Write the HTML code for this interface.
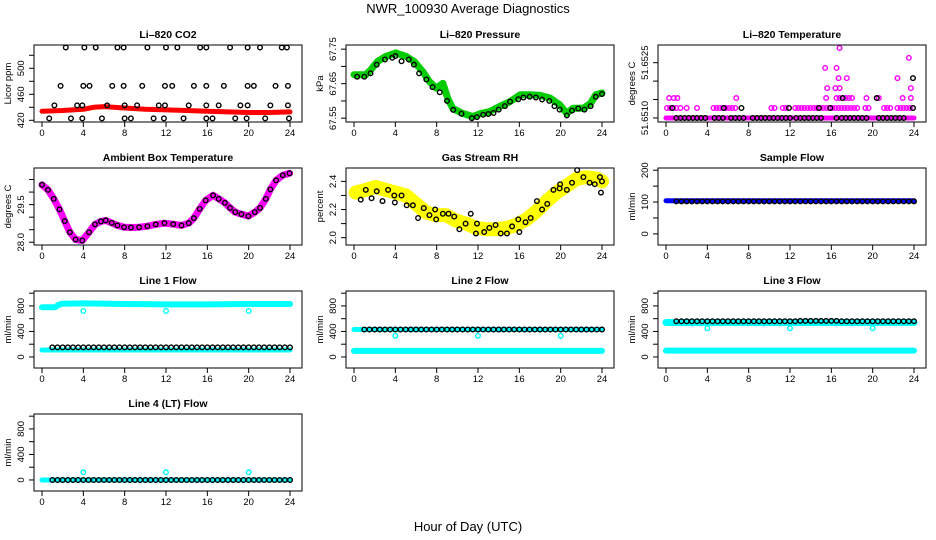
<!DOCTYPE html>
<html><head><meta charset="utf-8"><style>
html,body{margin:0;padding:0;background:#fff}
svg{display:block;font-family:"Liberation Sans",Arial,sans-serif}
</style></head><body>
<svg id="fig" width="936" height="540" viewBox="0 0 936 540">
<rect width="936" height="540" fill="#fff"/>
<text x="468" y="13" font-size="13" text-anchor="middle">NWR_100930  Average Diagnostics</text>
<text x="468" y="531" font-size="13" text-anchor="middle">Hour of Day (UTC)</text>
</svg>
<script>
// ---- data ----
const xTicks=[0,4,8,12,16,20,24];
const halfHours=[1,1.5,2,2.5,3,3.5,4,4.5,5,5.5,6,6.5,7,7.5,8,8.5,9,9.5,10,10.5,11,11.5,12,12.5,13,13.5,14,14.5,15,15.5,16,16.5,17,17.5,18,18.5,19,19.5,20,20.5,21,21.5,22,22.5,23,23.5,24];

// CO2
const co2RedX=[0,2,4,5,6,8,10,12,14,16,18,20,22,24];
const co2RedY=[434,435,437,440,441,439,437,436,435,434,433,432,432,433];
const co2TopX=[2.3,4.1,5.2,7.3,7.9,10.2,12,13.1,15.3,15.9,18.2,19.9,21.1,23.2,23.7];
const co2TopY=[532,532,532,532,532,532,532,532,532,532,532,532,532,532,532];
const co2MidX=[1.8,4,4.6,6.8,7.9,9.7,11.9,12.6,14.7,15.9,17.6,19.9,20.5,22.6,23.8];
const co2MidY=[473,473,473,473,473,473,473,473,473,473,473,473,473,473,473];
const co2LowX=[1.2,3.4,3.9,6.3,8,9.2,11.3,11.9,14.2,15.9,17.1,19.2,19.9,22.1,23.8];
const co2LowY=[443,443,443,443,443,443,443,443,443,443,443,443,443,443,443];
const co2BotX=[0.7,2.8,3.9,5.8,8,8.6,10.8,11.8,13.7,15.9,16.5,18.7,19.8,21.6,23.9];
const co2BotY=[423,423,423,423,423,423,423,423,423,423,423,423,423,423,423];

// Pressure
const presX=[0,1.14,1.62,2.27,3.08,4.05,5.03,5.84,6.65,7.3,7.95,8.6,9.08,9.57,10.5,11.5,12.3,13.1,14.1,15.1,16.1,17,18,19,19.9,20.6,21.2,22.2,22.9,23.4,24];
const presY=[67.676,67.676,67.69,67.714,67.729,67.739,67.729,67.714,67.685,67.656,67.637,67.651,67.607,67.578,67.564,67.555,67.564,67.569,67.584,67.598,67.618,67.618,67.616,67.608,67.589,67.564,67.579,67.579,67.593,67.618,67.623];
const presBlkX=[0.3,1,1.6,2.2,3,3.7,4,4.6,5.3,5.8,6.3,7,7.6,8.3,9,9.6,10.4,11.4,11.9,12.5,13,13.5,14,14.6,15.1,15.9,16.4,17,17.6,18.2,18.9,19.4,19.9,20.6,21.1,21.7,22.3,22.9,23.4,24];
const presBlkY=[67.67,67.67,67.68,67.705,67.72,67.725,67.73,67.715,67.72,67.705,67.68,67.662,67.64,67.625,67.6,67.574,67.563,67.55,67.553,67.56,67.562,67.565,67.575,67.585,67.598,67.605,67.61,67.612,67.61,67.604,67.6,67.585,67.575,67.558,67.572,67.578,67.575,67.585,67.612,67.62];

// Li-820 temperature
const tMagX=[0.1,0.4,0.7,1.0,1.4,2.0,3.0,4.6,4.9,5.2,5.5,5.8,6.1,6.4,6.7,10.2,10.5,11.3,11.6,12.5,12.8,13.1,13.4,13.7,14.0,14.3,14.6,14.9,15.2,15.5,15.8,16.1,16.4,16.7,17.0,17.3,17.6,17.9,18.2,18.5,19.3,19.6,21.1,21.4,21.7,22.4,22.7,23.0,23.3,23.6,23.9,
 0.3,0.75,1.1,6.8,15.5,16.5,16.8,17.1,17.4,17.7,18.0,19.4,20.4,20.6,22.9,23.7,
 15.6,16.4,16.8,23.7,16.7,17.5,22.4,15.4,16.5,23.5,16.8];
const tMagY=[51.65127,51.65127,51.65127,51.65127,51.65127,51.65127,51.65127,51.65127,51.65127,51.65127,51.65127,51.65127,51.65127,51.65127,51.65127,51.65127,51.65127,51.65127,51.65127,51.65127,51.65127,51.65127,51.65127,51.65127,51.65127,51.65127,51.65127,51.65127,51.65127,51.65127,51.65127,51.65127,51.65127,51.65127,51.65127,51.65127,51.65127,51.65127,51.65127,51.65127,51.65127,51.65127,51.65127,51.65127,51.65127,51.65127,51.65127,51.65127,51.65127,51.65127,51.65127,
 51.65154,51.65154,51.65154,51.65154,51.65154,51.65154,51.65154,51.65154,51.65154,51.65154,51.65154,51.65154,51.65154,51.65154,51.65154,51.65154,
 51.65181,51.65181,51.65181,51.65181,51.65208,51.65208,51.65208,51.65236,51.65236,51.65263,51.6529];
const tBaseX=[0,24];
const tBaseY=[51.6510,51.6510];
const tBlkX=[1.0,1.4,1.8,2.2,2.6,3.0,3.4,3.8,4.7,5.1,5.5,6.3,6.7,7.1,7.5,8.4,8.8,9.2,9.6,10.0,10.4,10.8,11.2,11.6,12.0,12.6,13.0,13.4,13.8,14.2,14.6,15.0,16.5,17.0,17.4,17.8,18.2,18.6,19.0,19.4,20.6,21.0,21.4,21.8,22.2,22.6,23.0,
 0.6,5.6,7.3,11.9,14.8,15.9,23.9,17.1,20.4,23.9];
const tBlkY=[51.651,51.651,51.651,51.651,51.651,51.651,51.651,51.651,51.651,51.651,51.651,51.651,51.651,51.651,51.651,51.651,51.651,51.651,51.651,51.651,51.651,51.651,51.651,51.651,51.651,51.651,51.651,51.651,51.651,51.651,51.651,51.651,51.651,51.651,51.651,51.651,51.651,51.651,51.651,51.651,51.651,51.651,51.651,51.651,51.651,51.651,51.651,
 51.65127,51.65127,51.65127,51.65127,51.65127,51.65127,51.65127,51.65154,51.65154,51.65208];

// Ambient box temperature
const ambX=[0,0.58,1.14,1.69,2.2,2.7,3.25,3.9,4.55,5.13,5.7,6.17,6.75,7.3,7.95,8.6,9.4,10.2,11,11.85,12.7,13.5,14.2,14.7,15.26,15.84,16.56,17.1,17.7,18.2,18.7,19.3,19.97,20.6,21.1,21.66,22.1,22.66,23.3,23.96];
const ambY=[30.29,30.09,29.73,29.31,28.84,28.4,28.11,28.07,28.4,28.71,28.83,28.87,28.77,28.67,28.6,28.59,28.6,28.64,28.71,28.76,28.72,28.67,28.76,28.96,29.33,29.67,29.87,29.73,29.57,29.37,29.2,29.12,29.04,29.2,29.37,29.73,30.11,30.47,30.67,30.75];

// Gas stream RH
const rhX=[0.16,1.14,2.1,3.08,4.05,5.03,6,6.97,7.95,8.9,9.9,10.9,11.8,12.8,13.8,14.8,15.7,16.7,17.7,18.65,19.6,20.6,21.6,22.5,23.5,24];
const rhY=[2.32,2.34,2.36,2.34,2.32,2.3,2.24,2.18,2.16,2.16,2.12,2.1,2.07,2.06,2.06,2.07,2.09,2.13,2.19,2.26,2.32,2.37,2.42,2.43,2.42,2.4];
const rhBlkX=[0.65,1.14,1.7,2.2,2.76,3.3,3.9,3.95,4.6,5.1,5.7,6.2,6.75,7.3,7.85,7.95,8.6,9.15,9.7,10.2,10.8,11.3,11.8,11.9,12.6,13.1,13.7,14.2,14.8,15.3,15.9,16,16.6,17.1,17.7,18.2,18.7,19.3,19.9,19.95,20.6,21.1,21.6,22.2,22.8,23.3,23.8,23.9,24];
const rhBlkY=[2.27,2.34,2.28,2.33,2.26,2.34,2.3,2.25,2.3,2.23,2.23,2.14,2.21,2.16,2.2,2.13,2.17,2.17,2.15,2.06,2.1,2.17,2.03,2.1,2.04,2.07,2.09,2.03,2.03,2.08,2.13,2.04,2.11,2.14,2.26,2.2,2.24,2.34,2.35,2.38,2.34,2.39,2.48,2.43,2.39,2.38,2.43,2.32,2.4];

// Sample flow
const sfBlueX=[0,24];
const sfBlueY=[104,104];
const sfBlkY=[102,102,102,102,102,102,102,102,102,102,102,102,102,102,102,102,102,102,102,102,102,102,102,102,102,102,102,102,102,102,102,102,102,102,102,102,102,102,102,102,102,102,102,102,102,102,102];

// Line flows
const dipX=[4,12,20];
const l1TopX=[0,1.3,1.6,2,4,8,12,16,20,24];
const l1TopY=[780,780,820,835,840,830,825,825,830,830];
const l1BotX=[0,24];
const l1BotY=[110,110];
const l1DipY=[720,720,720];
const l1BlkY=[150,150,150,150,150,150,150,150,150,150,150,150,150,150,150,150,150,150,150,150,150,150,150,150,150,150,150,150,150,150,150,150,150,150,150,150,150,150,150,150,150,150,150,150,150,150,150];

const l2TopX=[0,24];
const l2TopY=[430,430];
const l2BotX=[0,24];
const l2BotY=[95,95];
const l2DipY=[330,330,330];
const l2BlkY=[430,430,430,430,430,430,430,430,430,430,430,430,430,430,430,430,430,430,430,430,430,430,430,430,430,430,430,430,430,430,430,430,430,430,430,430,430,430,430,430,430,430,430,430,430,430,430];

const l3TopX=[0,24];
const l3TopY=[540,540];
const l3BotX=[0,24];
const l3BotY=[100,100];
const l3DipY=[450,450,450];
const l3BlkY=[560,560,560,560,560,560,560,560,560,560,560,560,560,560,560,560,560,560,560,560,560,560,560,560,565,565,565,565,565,565,565,565,560,560,560,560,560,560,560,560,560,560,560,560,560,560,560];

const l4BandX=[0,24];
const l4BandY=[0,0];
const l4DipY=[120,120,120];
const l4BlkY=[0,0,0,0,0,0,0,0,0,0,0,0,0,0,0,0,0,0,0,0,0,0,0,0,0,0,0,0,0,0,0,0,0,0,0,0,0,0,0,0,0,0,0,0,0,0,0];

// ---- drawing ----
const NS='http://www.w3.org/2000/svg';
const svg=document.getElementById('fig');
function mk(tag,attrs,parent){const e=document.createElementNS(NS,tag);for(const k in attrs)e.setAttribute(k,attrs[k]);(parent||svg).appendChild(e);return e;}

function panel(o){
  const g=mk('g',{});
  
  
  const cx=o.col*312, L=34+cx, R=302+cx, T=45+123*o.row, B=122+123*o.row;
  const sx=h=>cx+42+h*248/24;
  const sy=v=>B-(v-o.lo)/(o.hi-o.lo)*(B-T);
  const plot=mk('g',{},g);
  
  
  const box=mk('rect',{x:L,y:T,width:R-L,height:B-T,fill:'none',stroke:'#000','stroke-width':1},g);
  
  
  const t=mk('text',{x:(L+R)/2,y:T-7,'font-size':10.5,'font-weight':'bold','text-anchor':'middle'},g);
  t.textContent=o.title;
  
  
  const xa=mk('g',{},g);
  
  
  mk('line',{x1:sx(0),x2:sx(24),y1:B,y2:B,stroke:'#000'},xa);
  xTicks.forEach(h=>{
    mk('line',{x1:sx(h),x2:sx(h),y1:B,y2:B+5,stroke:'#000'},xa);
    const l=mk('text',{x:sx(h),y:B+14,'font-size':9.5,'text-anchor':'middle'},xa);
    l.textContent=h;
    
    
  });
  const ya=mk('g',{},g);
  
  
  mk('line',{x1:L,x2:L,y1:sy(o.ticks[0]),y2:sy(o.ticks[o.ticks.length-1]),stroke:'#000'},ya);
  o.ticks.forEach((v,i)=>{
    mk('line',{x1:L-5,x2:L,y1:sy(v),y2:sy(v),stroke:'#000'},ya);
    if(o.labels[i]){
      const l=mk('text',{x:0,y:0,'font-size':9.5,'text-anchor':'middle',transform:`translate(${L-10},${sy(v)}) rotate(-90)`},ya);
      l.textContent=o.labels[i];
      
      
    }
  });
  const yt=mk('text',{x:0,y:0,'font-size':9.5,'text-anchor':'middle',transform:`translate(${cx+11},${(T+B)/2}) rotate(-90)`},g);
  yt.textContent=o.ytitle;
  
  
  return {
    band(xs,ys,color,w,name){
      const p=mk('polyline',{points:xs.map((x,i)=>sx(x)+','+sy(ys[i])).join(' '),fill:'none',stroke:color,'stroke-width':w,'stroke-linejoin':'round','stroke-linecap':'round'},plot);
      
      
    },
    pts(xs,ys,color,name){
      const pg=mk('g',{},plot);
      
      
      xs.forEach((x,i)=>{
        const c=mk('circle',{cx:sx(x),cy:sy(ys[i]),r:2.3,fill:'none',stroke:color,'stroke-width':1.4},pg);
        
        
      });
    }
  };
}
const flowTicks=[0,200,400,600,800,1000], flowLabels=['0','','400','','800',''];

let p=panel({name:'co2-panel',col:0,row:0,lo:417.4,hi:535.8,ticks:[420,440,460,480,500,520],labels:['420','','460','','500',''],ytitle:'Licor ppm',title:'Li–820 CO2'});
p.band(co2RedX,co2RedY,'#ff0000',5,'co2-red-series');
p.pts(co2TopX,co2TopY,'#000','co2-outliers-top');
p.pts(co2MidX,co2MidY,'#000','co2-outliers-mid');
p.pts(co2LowX,co2LowY,'#000','co2-outliers-low');
p.pts(co2BotX,co2BotY,'#000','co2-outliers-bottom');

p=panel({name:'pressure-panel',col:1,row:0,lo:67.539,hi:67.762,ticks:[67.55,67.6,67.65,67.7,67.75],labels:['67.55','','67.65','','67.75'],ytitle:'kPa',title:'Li–820 Pressure'});
p.band(presX,presY,'#00cc00',7,'pressure-green-series');
p.pts(presBlkX,presBlkY,'#000','pressure-black-series');

p=panel({name:'licor-temp-panel',col:2,row:0,lo:51.65089,hi:51.65298,ticks:[51.651,51.6515,51.652,51.6525],labels:['51.6510','','','51.6525'],ytitle:'degrees C',title:'Li–820 Temperature'});
p.band(tBaseX,tBaseY,'#ff00ff',5,'licor-temp-base-band');
p.pts(tMagX,tMagY,'#ff00ff','licor-temp-magenta-series');
p.pts(tBlkX,tBlkY,'#000','licor-temp-black-series');

p=panel({name:'ambient-temp-panel',col:0,row:1,lo:27.89,hi:30.96,ticks:[28,28.5,29,29.5,30,30.5],labels:['28.0','','','29.5','',''],ytitle:'degrees C',title:'Ambient Box Temperature'});
p.band(ambX,ambY,'#ff00ff',7,'ambient-temp-magenta-series');
p.pts(ambX,ambY,'#000','ambient-temp-black-series');

p=panel({name:'gas-rh-panel',col:1,row:1,lo:1.948,hi:2.495,ticks:[2.0,2.1,2.2,2.3,2.4],labels:['2.0','','2.2','','2.4'],ytitle:'percent',title:'Gas Stream RH'});
p.band(rhX,rhY,'#ffff00',14,'gas-rh-yellow-series');
p.pts(rhBlkX,rhBlkY,'#000','gas-rh-black-series');

p=panel({name:'sample-flow-panel',col:2,row:1,lo:-35,hi:207,ticks:[0,50,100,150,200],labels:['0','','100','','200'],ytitle:'ml/min',title:'Sample Flow'});
p.band(sfBlueX,sfBlueY,'#0000ff',5,'sample-flow-blue-series');
p.pts(halfHours,sfBlkY,'#000','sample-flow-black-series');

p=panel({name:'line1-flow-panel',col:0,row:2,lo:-173,hi:1034,ticks:flowTicks,labels:flowLabels,ytitle:'ml/min',title:'Line 1 Flow'});
p.band(l1TopX,l1TopY,'#00ffff',6,'line1-cyan-top');
p.band(l1BotX,l1BotY,'#00ffff',5,'line1-cyan-bottom');
p.pts(dipX,l1DipY,'#00ffff','line1-cyan-dips');
p.pts(halfHours,l1BlkY,'#000','line1-black-series');

p=panel({name:'line2-flow-panel',col:1,row:2,lo:-173,hi:1034,ticks:flowTicks,labels:flowLabels,ytitle:'ml/min',title:'Line 2 Flow'});
p.band(l2TopX,l2TopY,'#00ffff',5,'line2-cyan-top');
p.band(l2BotX,l2BotY,'#00ffff',6,'line2-cyan-bottom');
p.pts(dipX,l2DipY,'#00ffff','line2-cyan-dips');
p.pts(halfHours,l2BlkY,'#000','line2-black-series');

p=panel({name:'line3-flow-panel',col:2,row:2,lo:-173,hi:1034,ticks:flowTicks,labels:flowLabels,ytitle:'ml/min',title:'Line 3 Flow'});
p.band(l3TopX,l3TopY,'#00ffff',7,'line3-cyan-top');
p.band(l3BotX,l3BotY,'#00ffff',6,'line3-cyan-bottom');
p.pts(dipX,l3DipY,'#00ffff','line3-cyan-dips');
p.pts(halfHours,l3BlkY,'#000','line3-black-series');

p=panel({name:'line4-flow-panel',col:0,row:3,lo:-173,hi:1034,ticks:flowTicks,labels:flowLabels,ytitle:'ml/min',title:'Line 4 (LT) Flow'});
p.band(l4BandX,l4BandY,'#00ffff',5,'line4-cyan-band');
p.pts(dipX,l4DipY,'#00ffff','line4-cyan-dips');
p.pts(halfHours,l4BlkY,'#000','line4-black-series');
</script>
</body></html>
